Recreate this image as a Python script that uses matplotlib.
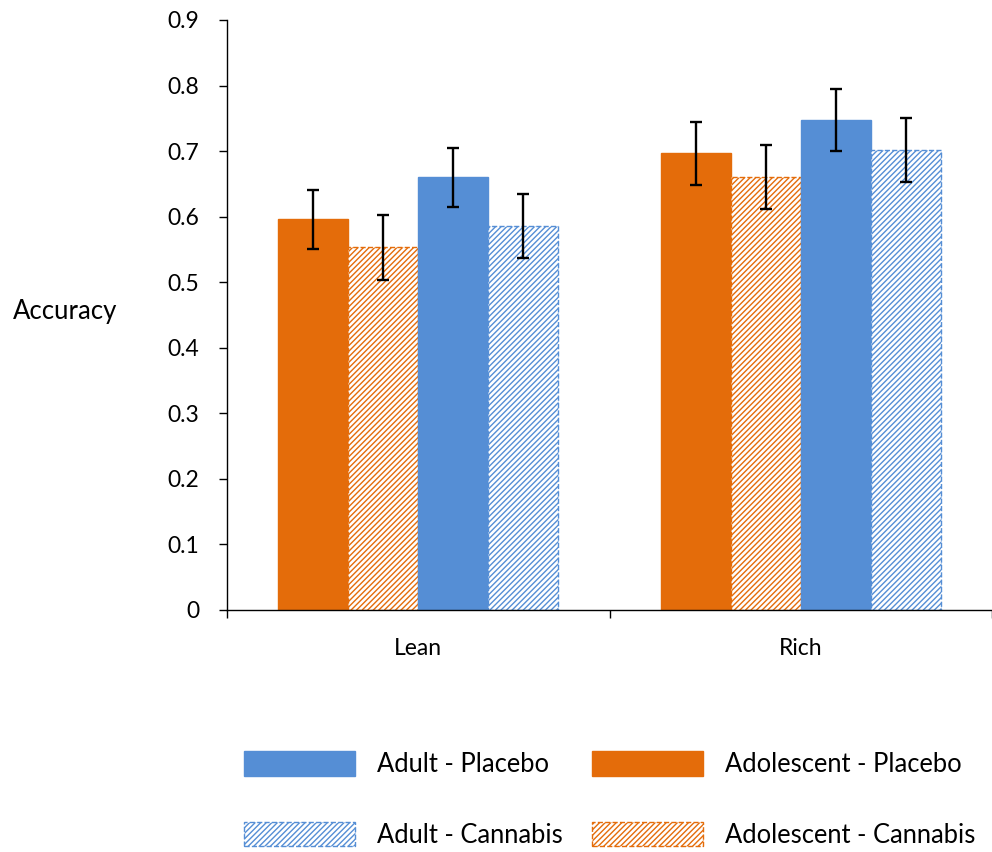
import numpy as np
import matplotlib
matplotlib.use("Agg")
import matplotlib.pyplot as plt

plt.rcParams['font.family'] = ['Lato', 'DejaVu Sans']
plt.rcParams['hatch.linewidth'] = 1.0

categories = ["Lean", "Rich"]
groups = ["Adolescent - Placebo", "Adolescent - Cannabis", "Adult - Placebo", "Adult - Cannabis"]
means = {
    "Adolescent - Placebo": [0.596, 0.697],
    "Adolescent - Cannabis": [0.553, 0.661],
    "Adult - Placebo": [0.660, 0.747],
    "Adult - Cannabis": [0.586, 0.702],
}
errors = {
    "Adolescent - Placebo": [0.045, 0.048],
    "Adolescent - Cannabis": [0.049, 0.049],
    "Adult - Placebo": [0.045, 0.047],
    "Adult - Cannabis": [0.049, 0.049],
}

orange = "#E46C0A"
blue = "#558ED5"
styles = {
    "Adolescent - Placebo": dict(color=orange, edgecolor=orange),
    "Adolescent - Cannabis": dict(color="white", edgecolor=orange, hatch="//////", linestyle="--", linewidth=1.0),
    "Adult - Placebo": dict(color=blue, edgecolor=blue),
    "Adult - Cannabis": dict(color="white", edgecolor=blue, hatch="//////", linestyle="--", linewidth=1.0),
}

fig = plt.figure(figsize=(9.92, 8.52), dpi=100)
ax = fig.add_axes([227 / 992, 1 - 610 / 852, 1 - 227 / 992, (610 - 20) / 852])

x = np.arange(len(categories)) + 0.5
w = 0.183
handles = {}
for i, g in enumerate(groups):
    pos = x + (i - 1.5) * w
    b = ax.bar(pos, means[g], w, label=g, **styles[g])
    ax.errorbar(pos, means[g], yerr=errors[g], fmt="none", ecolor="black",
                elinewidth=1.7, capsize=4.5, capthick=1.7)
    handles[g] = b

ax.set_ylim(0, 0.9)
ax.set_xlim(0, (992 - 227) / 385.5)
ax.set_yticks(np.arange(0, 0.91, 0.1))
ax.set_yticklabels(["0"] + [f"{v:.1f}" for v in np.arange(0.1, 0.91, 0.1)])
ax.set_xticks([0, 1, 2])
ax.set_xticklabels([])
ax.set_xticks(x, minor=True)
ax.set_xticklabels(categories, minor=True)
ax.tick_params(axis="x", which="minor", length=0, pad=20, labelsize=16.5)
ax.tick_params(axis="x", which="major", direction="out", length=6, width=1)
ax.tick_params(axis="y", direction="out", length=6, width=1, labelsize=16.5, pad=14)
for s in ["top", "right"]:
    ax.spines[s].set_visible(False)
ax.spines["left"].set_linewidth(1)
ax.spines["bottom"].set_linewidth(1)

fig.text(13 / 992, 1 - 312 / 852, "Accuracy", fontsize=18.5, va="center", ha="left")

order = ["Adult - Placebo", "Adult - Cannabis", "Adolescent - Placebo", "Adolescent - Cannabis"]
fig.legend([handles[g] for g in order], order, loc="upper left",
           bbox_to_anchor=(244 / 992, 1 - 751 / 852), ncol=2, frameon=False,
           fontsize=18.4, handlelength=4.35, handleheight=1.1, labelspacing=1.75,
           handletextpad=0.85, columnspacing=1.15, borderpad=0, borderaxespad=0)

fig.savefig("out.png", dpi=100)
